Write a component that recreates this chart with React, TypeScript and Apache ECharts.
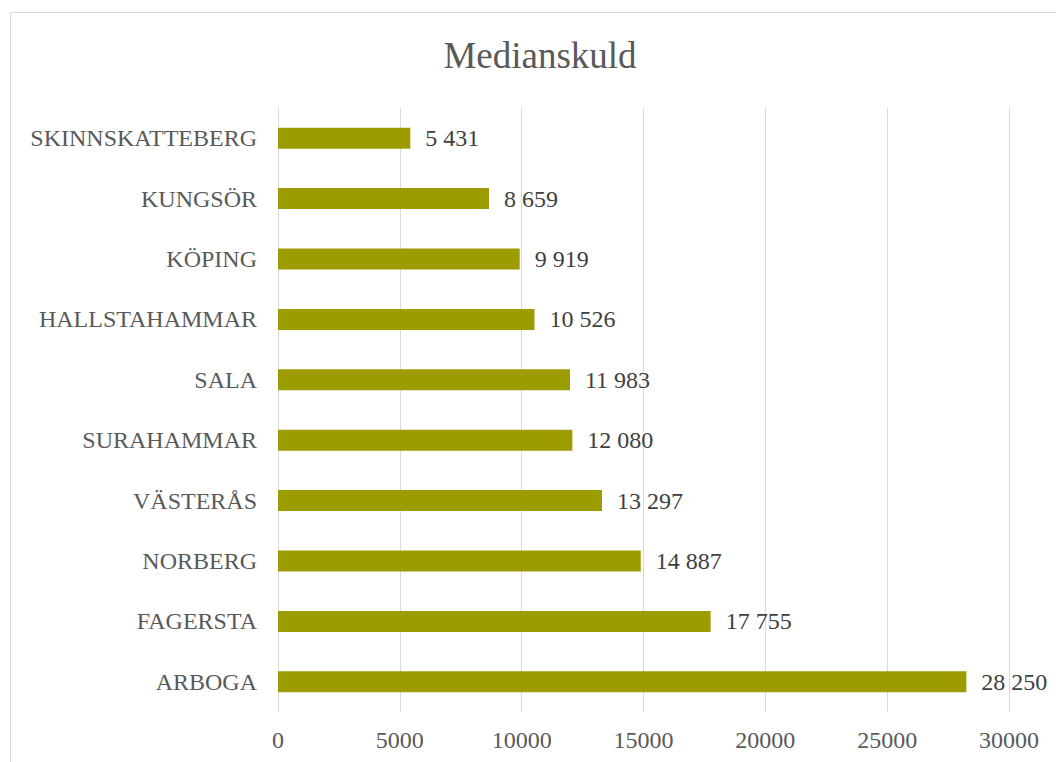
import React, { useEffect, useRef } from "react";
import * as echarts from "echarts";

const categories = [
  "ARBOGA",
  "FAGERSTA",
  "NORBERG",
  "VÄSTERÅS",
  "SURAHAMMAR",
  "SALA",
  "HALLSTAHAMMAR",
  "KÖPING",
  "KUNGSÖR",
  "SKINNSKATTEBERG",
];
const values = [28250, 17755, 14887, 13297, 12080, 11983, 10526, 9919, 8659, 5431];
const titleText = "Medianskuld";

const fmt = (v: number) => String(v).replace(/\B(?=(\d{3})+(?!\d))/g, " ");

export default function App() {
  const ref = useRef<HTMLDivElement>(null);
  useEffect(() => {
    document.body.style.margin = "0";
    const chart = echarts.init(ref.current!, null, { renderer: "svg" });
    const font = "'Liberation Serif', 'Times New Roman', serif";
    chart.setOption({
      animation: false,
      backgroundColor: "#ffffff",
      textStyle: { fontFamily: font },
      title: {
        text: titleText,
        left: 535,
        textAlign: "center",
        top: 32,
        textStyle: { fontFamily: font, fontSize: 37, fontWeight: "normal", color: "#595959" },
      },
      graphic: [
        {
          type: "rect",
          shape: { x: 10.5, y: 12.5, width: 1100, height: 800 },
          style: { fill: "none", stroke: "#d9d9d9", lineWidth: 1 },
          silent: true,
        },
      ],
      grid: { left: 278, right: 47, top: 108, bottom: 50 },
      xAxis: {
        type: "value",
        min: 0,
        max: 30000,
        interval: 5000,
        axisLine: { show: false },
        axisTick: { show: false },
        splitLine: { show: true, lineStyle: { color: "#d9d9d9", width: 1 } },
        axisLabel: {
          fontFamily: font,
          fontSize: 24,
          color: "#595959",
          margin: 16,
          formatter: (v: number) => String(v),
        },
      },
      yAxis: {
        type: "category",
        data: categories,
        axisLine: { show: false },
        axisTick: { show: false },
        axisLabel: { fontFamily: font, fontSize: 24, color: "#595959", margin: 21 },
      },
      series: [
        {
          type: "bar",
          data: values,
          barWidth: 21,
          itemStyle: { color: "#9c9c00" },
          label: {
            show: true,
            position: "right",
            distance: 15,
            formatter: (p: any) => fmt(p.value),
            fontFamily: font,
            fontSize: 24,
            color: "#404040",
          },
        },
      ],
    });
    return () => chart.dispose();
  }, []);
  return <div ref={ref} style={{ width: 1056, height: 762 }} />;
}
